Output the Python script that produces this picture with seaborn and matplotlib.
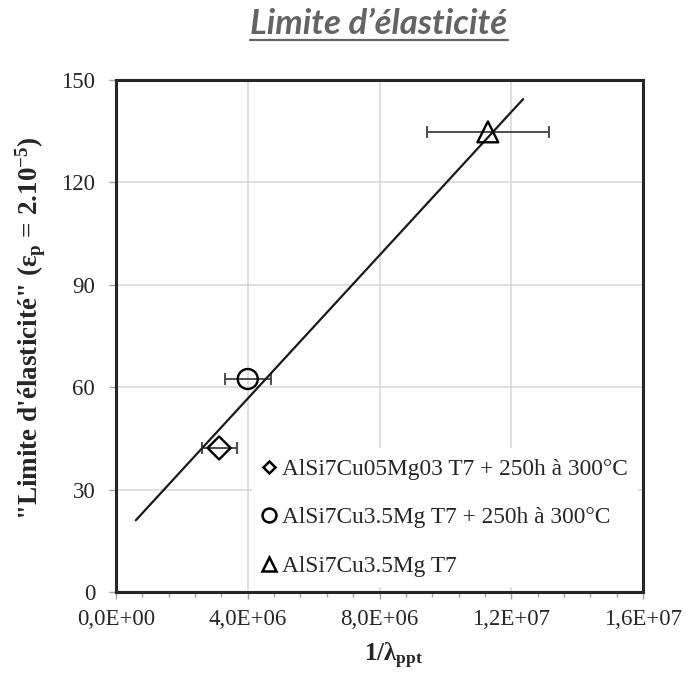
import numpy as np
import pandas as pd
import matplotlib
matplotlib.use("Agg")
import matplotlib.pyplot as plt
from matplotlib.lines import Line2D
from matplotlib.ticker import MultipleLocator, FuncFormatter
import seaborn as sns

# Alloys / heat treatments
series = [
    "AlSi7Cu05Mg03 T7 + 250h à 300°C",
    "AlSi7Cu3.5Mg T7 + 250h à 300°C",
    "AlSi7Cu3.5Mg T7",
]
series_markers = ["D", "o", "^"]

# Inverse precipitate spacing 1/lambda_ppt and its uncertainty
inv_lambda = [3.13e6, 4.0e6, 1.129e7]
inv_lambda_err = [0.53e6, 0.70e6, 1.85e6]

# "Yield stress" at eps_p = 2e-5
yield_stress = [42.2, 62.4, 134.8]

# Linear trend line end points
trend_x = [0.6e6, 1.236e7]
trend_y = [21.0, 144.4]

x_ticks = [0.0, 4.0e6, 8.0e6, 1.2e7, 1.6e7]
y_ticks = [0, 30, 60, 90, 120, 150]

df = pd.DataFrame({"series": series, "inv_lambda": inv_lambda,
                   "yield": yield_stress, "err": inv_lambda_err})

sns.set_theme(style="white")
plt.rcParams["font.family"] = ["Liberation Serif", "DejaVu Serif"]
plt.rcParams["mathtext.fontset"] = "custom"
plt.rcParams["mathtext.rm"] = "Liberation Serif"
plt.rcParams["mathtext.it"] = "Liberation Serif:italic"
plt.rcParams["mathtext.bf"] = "Liberation Serif:bold"

W, H = 689, 675
fig = plt.figure(figsize=(W / 100, H / 100), dpi=100)
ax = fig.add_axes([116 / W, 83 / H, 527 / W, 512 / H])

ax.set_xlim(x_ticks[0], x_ticks[-1])
ax.set_ylim(y_ticks[0], y_ticks[-1])
ax.xaxis.set_major_locator(MultipleLocator(4.0e6))
ax.xaxis.set_minor_locator(MultipleLocator(0.8e6))
ax.yaxis.set_major_locator(MultipleLocator(30))
ax.xaxis.set_major_formatter(FuncFormatter(lambda v, p: f"{v:.1E}".replace(".", ",")))

ax.grid(True, which="major", color="#d6d6d6", lw=1.1)
ax.set_axisbelow(True)

# horizontal error bars
ax.errorbar(df["inv_lambda"], df["yield"], xerr=df["err"], fmt="none",
            ecolor="#404040", elinewidth=1.3, capsize=4.3, capthick=1.3, zorder=3)

# trend line
sns.lineplot(x=trend_x, y=trend_y, color="#1a1a1a", lw=1.6, ax=ax, zorder=4)

# open markers
sns.scatterplot(data=df, x="inv_lambda", y="yield", style="series",
                markers=dict(zip(series, series_markers)),
                size="series", sizes=dict(zip(series, [137, 207, 225])),
                color="black", linewidth=1.7, legend=False, ax=ax, zorder=5)
pts = ax.collections[-1]
pts.set_facecolor("none")
pts.set_edgecolor("black")

for s in ax.spines.values():
    s.set_color("#262626")
    s.set_linewidth(2.2)

ax.tick_params(axis="both", which="major", direction="out", length=5, width=1,
               color="#a0a0a0", labelsize=16.5, labelcolor="#262626")
ax.tick_params(axis="x", which="minor", direction="out", length=3.5, width=1,
               color="#a0a0a0")
ax.tick_params(axis="x", which="major", pad=7, bottom=True)
ax.tick_params(axis="y", which="major", pad=10, left=True)
ax.tick_params(axis="x", which="minor", bottom=True)

ax.set_xlabel(r"$\mathbf{1/λ_{ppt}}$", fontsize=18, color="#262626", va="center")
ax.xaxis.set_label_coords((394 - 116) / 527, (592 - 656) / 512)
ax.set_ylabel("\"Limite d'élasticité\" ($\\mathbf{ε_p}$ = 2.10$^{\\mathbf{-5}}$)",
              fontsize=19.5, fontweight="bold", color="#262626", va="center")
ax.yaxis.set_label_coords((31 - 116) / 527, (592 - 328) / 512)

handles = [Line2D([], [], ls="none", marker=m, ms=ms, mfc="none", mec="black", mew=1.8)
           for m, ms in zip(series_markers, [6.6, 10, 10])]
leg = ax.legend(handles, series, loc="lower right", frameon=True, facecolor="white",
                edgecolor="none", framealpha=1, fontsize=16.8, handlelength=0.6,
                handletextpad=0.25, labelspacing=1.16, borderpad=0.45,
                borderaxespad=0.2)
leg.get_frame().set_boxstyle("square", pad=0)
for t in leg.get_texts():
    t.set_color("#262626")

# underlined title
title = fig.text(379 / W, 1 - 34 / H, "Limite d’élasticité", family="Lato",
                 fontweight="bold", fontstyle="italic", color="#646464",
                 fontsize=25, ha="center", va="baseline")
fig.canvas.draw()
bb = title.get_window_extent(fig.canvas.get_renderer())
uy = (H - 40) / H
fig.add_artist(Line2D([bb.x0 / W, bb.x1 / W], [uy, uy], transform=fig.transFigure,
                      color="#646464", lw=1.6))

fig.savefig("out.png", dpi=100)
